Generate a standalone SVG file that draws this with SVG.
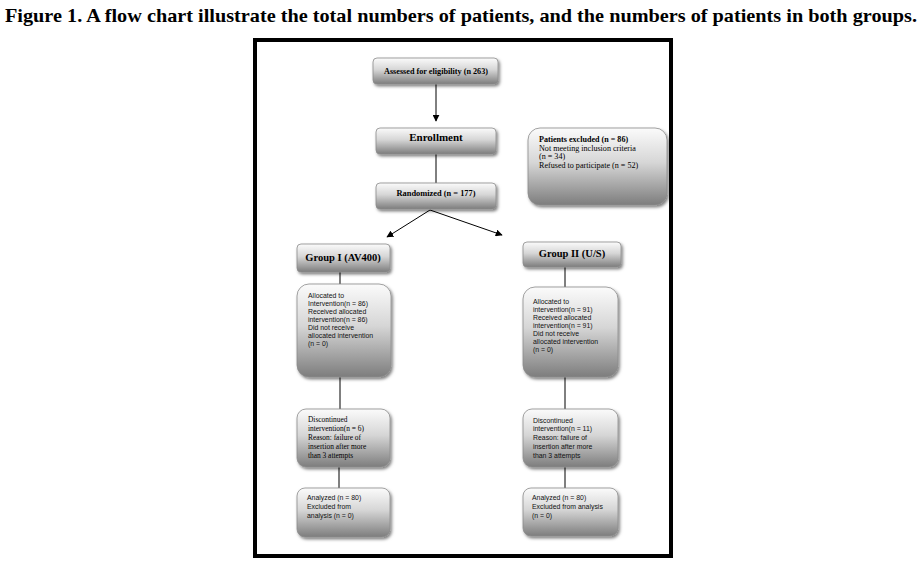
<svg xmlns="http://www.w3.org/2000/svg" width="924" height="564" viewBox="0 0 924 564">
<defs>
<linearGradient id="g" x1="0" y1="0" x2="0" y2="1">
<stop offset="0" stop-color="#fbfbfb"/>
<stop offset="0.45" stop-color="#d6d6d6"/>
<stop offset="1" stop-color="#7d7d7d"/>
</linearGradient>
<filter id="sh" x="-20%" y="-20%" width="150%" height="150%">
<feDropShadow dx="1.5" dy="2" stdDeviation="1.5" flood-color="#000" flood-opacity="0.5"/>
</filter>
<marker id="ah" viewBox="0 0 10 10" refX="9" refY="5" markerWidth="7" markerHeight="7" orient="auto" markerUnits="userSpaceOnUse">
<path d="M0,0 L10,5 L0,10 z" fill="#000"/>
</marker>
</defs>
<style>
.box{fill:url(#g);stroke:#8c8c8c;stroke-width:0.8;filter:url(#sh)}
.ser{font-family:"Liberation Serif","Times New Roman",serif;fill:#000}
.b{font-weight:bold}
.sans{font-family:"Liberation Sans",Arial,sans-serif;fill:#111;font-size:6.9px}
.ln{stroke:#000;stroke-width:1;fill:none}
</style>
<rect width="924" height="564" fill="#fff"/>
<text x="461" y="22" text-anchor="middle" class="ser b" font-size="19.5" textLength="912" lengthAdjust="spacingAndGlyphs">Figure 1. A flow chart illustrate the total numbers of patients, and the numbers of patients in both groups.</text>
<rect x="255" y="40" width="416" height="516" fill="none" stroke="#000" stroke-width="4"/>

<g id="connectors">
<line class="ln" x1="436" y1="84" x2="436" y2="121" stroke="#888" marker-end="url(#ah)"/>
<line class="ln" x1="436" y1="154" x2="436" y2="183"/>
<line class="ln" x1="430" y1="210" x2="387" y2="237" marker-end="url(#ah)"/>
<line class="ln" x1="430" y1="210" x2="502" y2="235" marker-end="url(#ah)"/>
<line class="ln" x1="340" y1="272" x2="340" y2="284"/>
<line class="ln" x1="340" y1="377" x2="340" y2="409"/>
<line class="ln" x1="339" y1="467" x2="339" y2="488"/>
<line class="ln" x1="565" y1="267" x2="565" y2="287"/>
<line class="ln" x1="565" y1="377" x2="565" y2="409"/>
<line class="ln" x1="565" y1="467" x2="565" y2="488"/>
</g>

<g id="assessed">
<rect class="box" x="373" y="58" width="125" height="26" rx="4"/>
<text x="436" y="74" text-anchor="middle" class="ser b" font-size="8.2">Assessed for eligibility (n 263)</text>
</g>
<g id="enrollment">
<rect class="box" x="376" y="128" width="120" height="26" rx="4"/>
<text x="436" y="141" text-anchor="middle" class="ser b" font-size="11">Enrollment</text>
</g>
<g id="randomized">
<rect class="box" x="376" y="183" width="120" height="26" rx="4"/>
<text x="436" y="196" text-anchor="middle" class="ser b" font-size="8.4">Randomized (n = 177)</text>
</g>
<g id="excluded">
<rect class="box" x="528" y="128" width="139" height="77" rx="12"/>
<text class="ser" font-size="8.1">
<tspan x="539" y="142" class="b">Patients excluded (n = 86)</tspan>
<tspan x="539" y="150.5">Not meeting inclusion criteria</tspan>
<tspan x="539" y="159">(n = 34)</tspan>
<tspan x="539" y="167.5">Refused to participate (n = 52)</tspan>
</text>
</g>
<g id="group1">
<rect class="box" x="297" y="244" width="93" height="28" rx="4"/>
<text x="343" y="261" text-anchor="middle" class="ser b" font-size="10.5">Group I (AV400)</text>
</g>
<g id="group2">
<rect class="box" x="523" y="242" width="98" height="25" rx="4"/>
<text x="572" y="257" text-anchor="middle" class="ser b" font-size="10.5">Group II (U/S)</text>
</g>
<g id="alloc1">
<rect class="box" x="297" y="284" width="94" height="93" rx="12"/>
<text class="sans">
<tspan x="308" y="298">Allocated to</tspan>
<tspan x="308" y="306">Intervention(n = 86)</tspan>
<tspan x="308" y="314">Received allocated</tspan>
<tspan x="308" y="322">intervention(n = 86)</tspan>
<tspan x="308" y="330">Did not receive</tspan>
<tspan x="308" y="338">allocated intervention</tspan>
<tspan x="308" y="346">(n = 0)</tspan>
</text>
</g>
<g id="alloc2">
<rect class="box" x="523" y="287" width="95" height="90" rx="12"/>
<text class="sans">
<tspan x="533" y="304">Allocated to</tspan>
<tspan x="533" y="312">intervention(n = 91)</tspan>
<tspan x="533" y="320">Received allocated</tspan>
<tspan x="533" y="328">intervention(n = 91)</tspan>
<tspan x="533" y="336">Did not receive</tspan>
<tspan x="533" y="344">allocated intervention</tspan>
<tspan x="533" y="352">(n = 0)</tspan>
</text>
</g>
<g id="disc1">
<rect class="box" x="297" y="409" width="93" height="58" rx="9"/>
<text class="ser" font-size="7.4">
<tspan x="308" y="422">Discontinued</tspan>
<tspan x="308" y="431">intervention(n = 6)</tspan>
<tspan x="308" y="440">Reason: failure of</tspan>
<tspan x="308" y="449">insertion   after more</tspan>
<tspan x="308" y="458">than 3 attempts</tspan>
</text>
</g>
<g id="disc2">
<rect class="box" x="523" y="409" width="95" height="58" rx="9"/>
<text class="sans">
<tspan x="533" y="423">Discontinued</tspan>
<tspan x="533" y="431">intervention(n = 11)</tspan>
<tspan x="533" y="440">Reason: failure of</tspan>
<tspan x="533" y="449">insertion   after more</tspan>
<tspan x="533" y="458">than 3 attempts</tspan>
</text>
</g>
<g id="anal1">
<rect class="box" x="297" y="488" width="93" height="49" rx="8"/>
<text class="sans" font-size="7.2">
<tspan x="307" y="500">Analyzed (n = 80)</tspan>
<tspan x="307" y="509">Excluded from</tspan>
<tspan x="307" y="518">analysis (n = 0)</tspan>
</text>
</g>
<g id="anal2">
<rect class="box" x="523" y="488" width="95" height="48" rx="8"/>
<text class="sans" font-size="7.2">
<tspan x="532" y="500">Analyzed (n = 80)</tspan>
<tspan x="532" y="509">Excluded from analysis</tspan>
<tspan x="532" y="518">(n = 0)</tspan>
</text>
</g>
</svg>
